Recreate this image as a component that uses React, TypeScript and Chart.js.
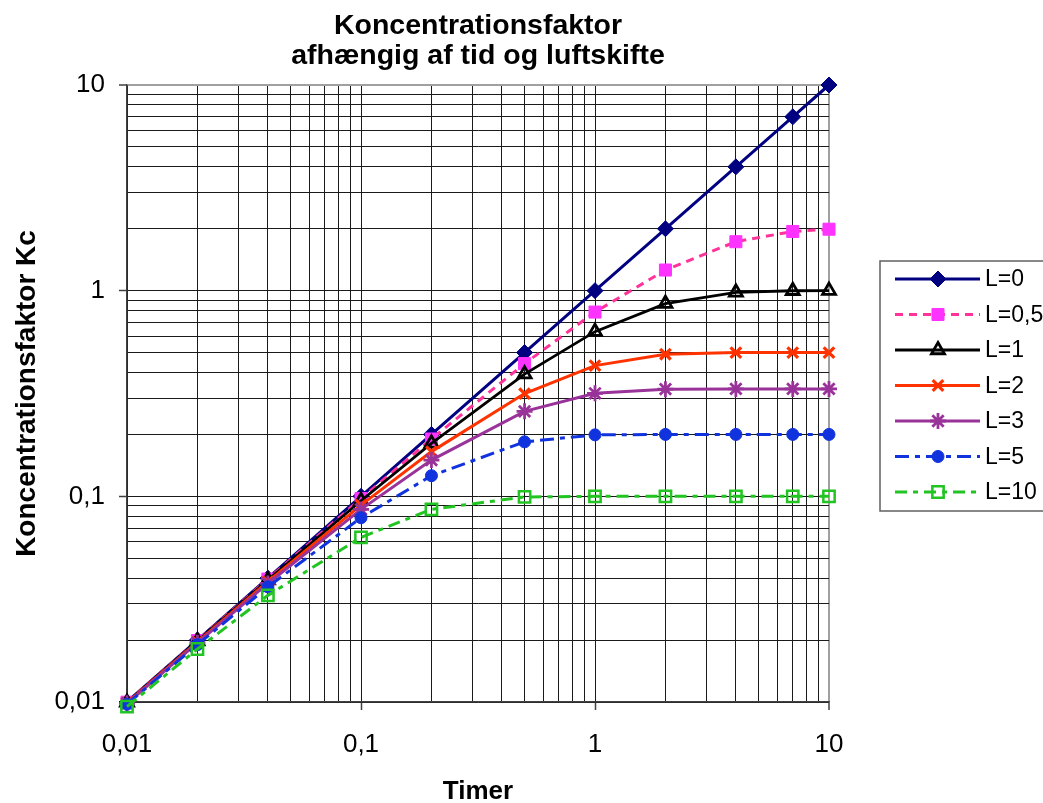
import React, { useEffect, useRef } from "react";
import { Chart, registerables } from "chart.js";
import { drawPoint } from "chart.js/helpers";

Chart.register(...registerables);

const hours = [0.01, 0.02, 0.04, 0.1, 0.2, 0.5, 1, 2, 4, 7, 10];
const seriesL0 = [0.01, 0.02, 0.04, 0.1, 0.2, 0.5, 1, 2, 4, 7, 10];
const seriesL05 = [0.00998, 0.0199, 0.0396, 0.0975, 0.19, 0.442, 0.787, 1.26, 1.73, 1.94, 1.99];
const seriesL1 = [0.00995, 0.0198, 0.0392, 0.0952, 0.181, 0.393, 0.632, 0.865, 0.982, 0.999, 1.0];
const seriesL2 = [0.0099, 0.0196, 0.0385, 0.0906, 0.165, 0.316, 0.432, 0.491, 0.4998, 0.5, 0.5];
const seriesL3 = [0.00985, 0.0194, 0.0377, 0.0864, 0.15, 0.259, 0.317, 0.332, 0.333, 0.333, 0.333];
const seriesL5 = [0.00975, 0.019, 0.0363, 0.0787, 0.126, 0.184, 0.199, 0.2, 0.2, 0.2, 0.2];
const seriesL10 = [0.0095, 0.0181, 0.033, 0.0632, 0.0865, 0.0993, 0.1, 0.1, 0.1, 0.1, 0.1];

const seriesNames = ["L=0", "L=0,5", "L=1", "L=2", "L=3", "L=5", "L=10"];

const decades = [0.01, 0.1, 1, 10];
const decadeLabels = ["0,01", "0,1", "1", "10"];
const minorSteps = [1, 2, 3, 4, 5, 6, 7, 8, 9];

const titleLines = ["Koncentrationsfaktor", "afhængig af tid og luftskifte"];
const xTitle = "Timer";
const yTitle = "Koncentrationsfaktor Kc";

const FONT = "'Liberation Sans', Arial, sans-serif";

function gridTicks() {
  const out: { value: number }[] = [];
  for (let d = 0; d < decades.length - 1; d++) {
    for (const m of minorSteps) out.push({ value: decades[d] * m });
  }
  out.push({ value: decades[decades.length - 1] });
  return out;
}

function labelFor(v: number): string {
  for (let i = 0; i < decades.length; i++) {
    if (Math.abs(v - decades[i]) / decades[i] < 1e-6) return decadeLabels[i];
  }
  return "";
}

function isMajor(v: number) {
  return labelFor(v) !== "";
}

function isMax(v: number) {
  return Math.abs(v - 10) < 1e-6;
}

const legendPlugin = {
  id: "customLegend",
  afterDraw(chart: any) {
    const ctx = chart.ctx;
    const boxX = 880;
    const boxY = 261;
    const boxW = 220;
    const boxH = 250;
    ctx.save();
    ctx.fillStyle = "#ffffff";
    ctx.fillRect(boxX, boxY, boxW, boxH);
    ctx.strokeStyle = "#606060";
    ctx.lineWidth = 1.5;
    ctx.strokeRect(boxX, boxY, boxW, boxH);
    const dsList = chart.data.datasets;
    for (let i = 0; i < dsList.length; i++) {
      const ds = dsList[i];
      const y = 279 + i * 35.5;
      ctx.save();
      ctx.beginPath();
      ctx.setLineDash(ds.borderDash || []);
      ctx.lineWidth = ds.borderWidth;
      ctx.strokeStyle = ds.borderColor;
      ctx.moveTo(895, y);
      ctx.lineTo(980, y);
      ctx.stroke();
      ctx.setLineDash([]);
      ctx.fillStyle = ds.pointBackgroundColor;
      ctx.strokeStyle = ds.pointBorderColor;
      ctx.lineWidth = ds.pointBorderWidth;
      drawPoint(ctx, {
        pointStyle: ds.pointStyle,
        rotation: 0,
        radius: ds.pointRadius,
        borderWidth: ds.pointBorderWidth,
      } as any, 938, y);
      ctx.restore();
      ctx.fillStyle = "#000000";
      ctx.font = `23px ${FONT}`;
      ctx.textAlign = "left";
      ctx.textBaseline = "middle";
      ctx.fillText(ds.label, 985, y + 1);
    }
    ctx.restore();
  },
};

function mk(values: number[]) {
  return hours.map((h, i) => ({ x: h, y: values[i] }));
}

export default function App() {
  const ref = useRef<HTMLCanvasElement | null>(null);

  useEffect(() => {
    if (!ref.current) return;
    const common = { clip: false as any, tension: 0, fill: false };
    const datasets: any[] = [
      {
        label: seriesNames[0], data: mk(seriesL0), borderColor: "#000080", borderWidth: 3,
        pointStyle: "rectRot", pointRadius: 8, pointBackgroundColor: "#000080",
        pointBorderColor: "#000080", pointBorderWidth: 1, borderDash: [],
      },
      {
        label: seriesNames[1], data: mk(seriesL05), borderColor: "#FF3399", borderWidth: 3,
        pointStyle: "rect", pointRadius: 8.5, pointBackgroundColor: "#FF33FF",
        pointBorderColor: "#FF33FF", pointBorderWidth: 1, borderDash: [8, 6],
      },
      {
        label: seriesNames[2], data: mk(seriesL1), borderColor: "#000000", borderWidth: 2.8,
        pointStyle: "triangle", pointRadius: 7.5, pointBackgroundColor: "rgba(255,255,255,0)",
        pointBorderColor: "#000000", pointBorderWidth: 2.8, borderDash: [],
      },
      {
        label: seriesNames[3], data: mk(seriesL2), borderColor: "#FF3300", borderWidth: 3,
        pointStyle: "crossRot", pointRadius: 7.5, pointBackgroundColor: "#FF3300",
        pointBorderColor: "#FF3300", pointBorderWidth: 3.2, borderDash: [],
      },
      {
        label: seriesNames[4], data: mk(seriesL3), borderColor: "#993399", borderWidth: 3,
        pointStyle: "star", pointRadius: 8, pointBackgroundColor: "#993399",
        pointBorderColor: "#993399", pointBorderWidth: 2.8, borderDash: [],
      },
      {
        label: seriesNames[5], data: mk(seriesL5), borderColor: "#1133DD", borderWidth: 3,
        pointStyle: "circle", pointRadius: 6, pointBackgroundColor: "#1133DD",
        pointBorderColor: "#1133DD", pointBorderWidth: 1, borderDash: [14, 6, 5, 6],
      },
      {
        label: seriesNames[6], data: mk(seriesL10), borderColor: "#22C422", borderWidth: 3,
        pointStyle: "rect", pointRadius: 8, pointBackgroundColor: "rgba(255,255,255,0)",
        pointBorderColor: "#22C422", pointBorderWidth: 2.5, borderDash: [12, 6, 5, 6],
      },
    ].map((d, i, arr) => ({ ...common, ...d, order: arr.length - 1 - i, pointHoverRadius: d.pointRadius }));

    const gridColor = (c: any) => {
      const v = c.tick ? c.tick.value : 0;
      return isMax(v) ? "#a0a0a0" : "#1a1a1a";
    };
    const gridWidth = (c: any) => {
      const v = c.tick ? c.tick.value : 0;
      return isMax(v) ? 2 : 1;
    };
    const tickColor = (c: any) => {
      const v = c.tick ? c.tick.value : 0;
      return isMajor(v) ? "#404040" : "rgba(0,0,0,0)";
    };

    const chart = new Chart(ref.current, {
      type: "line",
      data: { datasets },
      plugins: [legendPlugin],
      options: {
        animation: false,
        responsive: false,
        maintainAspectRatio: false,
        devicePixelRatio: 1,
        layout: { padding: { left: 0, right: 214, top: 0, bottom: 0 } },
        plugins: {
          legend: { display: false },
          tooltip: { enabled: false },
          title: {
            display: true,
            text: titleLines,
            fullSize: false,
            color: "#000000",
            font: { family: FONT, size: 28.5, weight: "bold", lineHeight: 30 / 28.5 },
            padding: { top: 11, bottom: 14 },
          },
        },
        scales: {
          x: {
            type: "logarithmic",
            min: 0.01,
            max: 10,
            afterBuildTicks: (scale: any) => { scale.ticks = gridTicks(); },
            afterFit: (scale: any) => { scale.height = 101; },
            ticks: {
              autoSkip: false,
              maxRotation: 0,
              minRotation: 0,
              padding: 19,
              color: "#000000",
              font: { family: FONT, size: 26 },
              callback: (v: any) => labelFor(Number(v)),
            },
            grid: {
              color: gridColor,
              lineWidth: gridWidth,
              tickColor: tickColor,
              tickLength: 8,
              tickWidth: 1.5,
            },
            border: { color: "#404040", width: 1.5 },
            title: {
              display: true,
              text: xTitle,
              color: "#000000",
              font: { family: FONT, size: 26, weight: "bold", lineHeight: 0.85 },
              padding: { top: 0, bottom: 0 },
            },
          },
          y: {
            type: "logarithmic",
            min: 0.01,
            max: 10,
            afterBuildTicks: (scale: any) => { scale.ticks = gridTicks(); },
            afterFit: (scale: any) => { scale.width = 127; },
            ticks: {
              autoSkip: false,
              padding: 14,
              color: "#000000",
              font: { family: FONT, size: 26 },
              callback: (v: any) => labelFor(Number(v)),
            },
            grid: {
              color: gridColor,
              lineWidth: gridWidth,
              tickColor: tickColor,
              tickLength: 8,
              tickWidth: 1.5,
            },
            border: { color: "#404040", width: 1.5 },
            title: {
              display: true,
              text: yTitle,
              color: "#000000",
              font: { family: FONT, size: 28, weight: "bold", lineHeight: 1.2 },
              padding: { top: 10, bottom: 0 },
            },
          },
        },
      } as any,
    });
    return () => chart.destroy();
  }, []);

  return (
    <div style={{ position: "absolute", left: 0, top: 0, width: 1043, height: 803, background: "#ffffff" }}>
      <canvas ref={ref} width={1043} height={803} style={{ display: "block" }} />
    </div>
  );
}
